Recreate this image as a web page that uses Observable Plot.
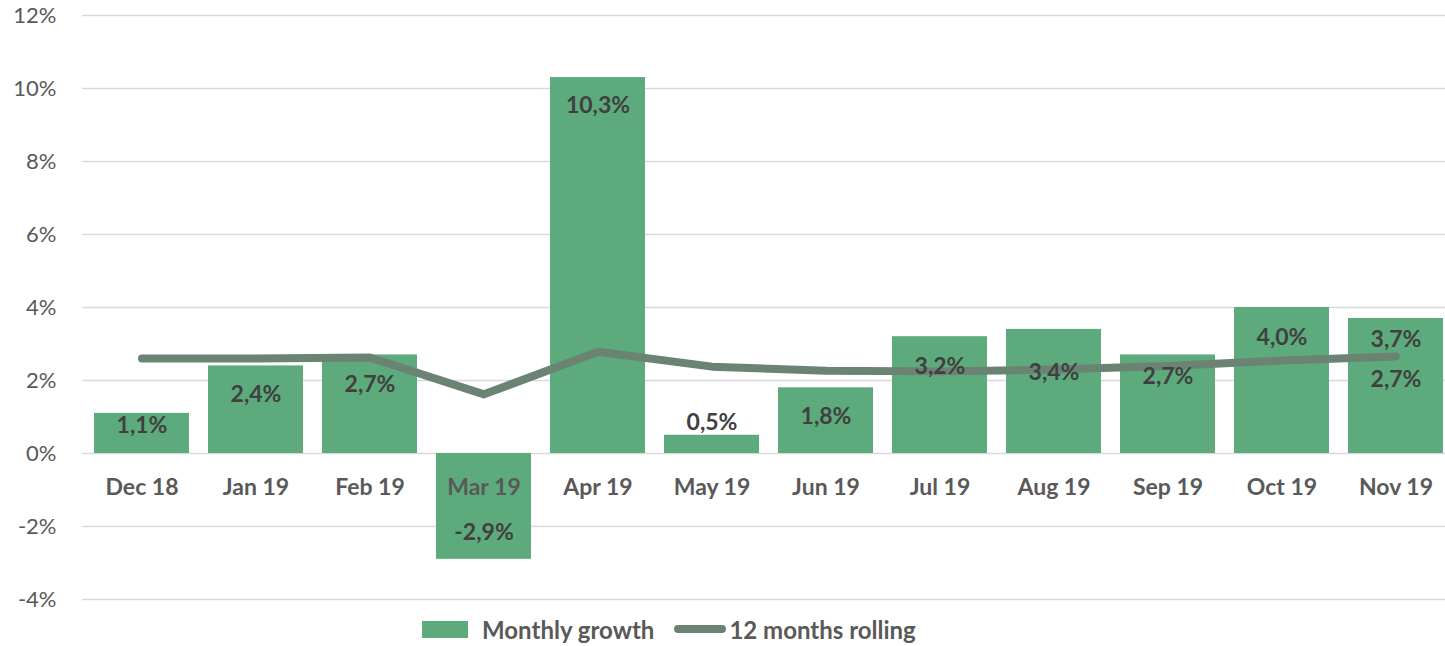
<!DOCTYPE html>
<html>
<head>
<meta charset="utf-8">
<script src="https://cdn.jsdelivr.net/npm/d3@7"></script>
<script src="https://cdn.jsdelivr.net/npm/@observablehq/plot@0.6"></script>
<style>
  html, body { margin: 0; padding: 0; background: #fff; overflow: hidden; }
  #chart { width: 1445px; }
  .legend { display: flex; align-items: center; height: 34px; padding-left: 422px;
    font-family: Lato, "Open Sans", sans-serif; font-weight: bold; font-size: 24px; color: #595959; }
  .legend .sw-bar { width: 46px; height: 17px; background: #5dab7c; margin-right: 14px; }
  .legend .sw-line { width: 52px; height: 8px; background: #6b8373; border-radius: 4px; margin-left: 20px; margin-right: 3px; }
</style>
</head>
<body>
<div id="chart"></div>
<div class="legend"><span class="sw-bar"></span><span>Monthly growth</span><span class="sw-line"></span><span>12 months rolling</span></div>
<script>
const months = ["Dec 18","Jan 19","Feb 19","Mar 19","Apr 19","May 19","Jun 19","Jul 19","Aug 19","Sep 19","Oct 19","Nov 19"];
const monthlyGrowth = [1.1, 2.4, 2.7, -2.9, 10.3, 0.5, 1.8, 3.2, 3.4, 2.7, 4.0, 3.7];
const rolling12 = [2.60, 2.60, 2.63, 1.62, 2.79, 2.38, 2.27, 2.25, 2.30, 2.40, 2.55, 2.66];
const yTicks = [-4, -2, 0, 2, 4, 6, 8, 10, 12];

// layout tweaks for the data labels (pixel offsets, not data)
const barLabelDy = [12, 29, 30, -27, 28, -13, 29, 30, 43, 22, 30, 21];

const bars = months.map((m, i) => ({month: m, value: monthlyGrowth[i], i}));
const line = months.map((m, i) => ({month: m, value: rolling12[i], i}));
const fmt = v => v.toFixed(1).replace(".", ",") + "%";
const font = "Lato, 'Open Sans', sans-serif";

const labelMarks = [...new Set(barLabelDy)].map(dy =>
  Plot.text(bars, {filter: d => barLabelDy[d.i] === dy, x: "month", y: "value", text: d => fmt(d.value),
    dy, fontSize: 23, fontWeight: "bold", fill: "#404040"}));

const chart = Plot.plot({
  width: 1445,
  height: 612,
  marginTop: 15,
  marginBottom: 13,
  marginLeft: 82,
  marginRight: 0,
  style: {fontFamily: font, background: "#fff", overflow: "hidden"},
  x: {domain: months, range: [82, 1455], paddingInner: 0.17, paddingOuter: 0.085, axis: null},
  y: {domain: [-4, 12], axis: null},
  marks: [
    Plot.gridY(yTicks, {stroke: "#d9d9d9", strokeOpacity: 1, strokeWidth: 1.5}),
    Plot.axisY(yTicks, {tickSize: 0, tickPadding: 26, tickFormat: d => d + "%", fontSize: 22, fill: "#595959", label: null}),
    Plot.barY(bars, {x: "month", y: "value", fill: "#5dab7c"}),
    Plot.text(bars, {x: "month", y: 0, text: "month", dy: 34, fontSize: 23, fontWeight: "bold", fill: "#595959"}),
    Plot.line(line, {x: "month", y: "value", stroke: "#6b8373", strokeWidth: 8, strokeLinecap: "round", strokeLinejoin: "round"}),
    ...labelMarks,
    Plot.text(line.slice(-1), {x: "month", y: "value", text: d => fmt(d.value), dy: 23, fontSize: 23, fontWeight: "bold", fill: "#404040"})
  ]
});
document.getElementById("chart").appendChild(chart);
</script>
</body>
</html>
